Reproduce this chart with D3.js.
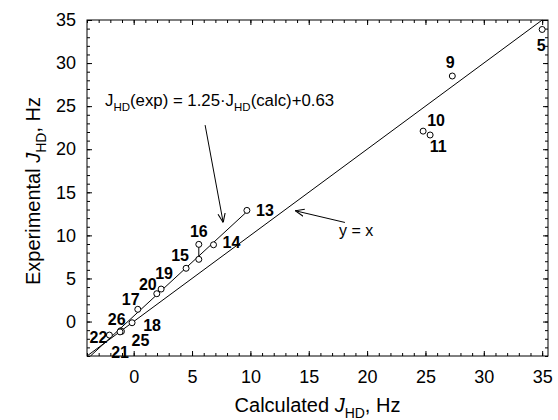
<!DOCTYPE html>
<html>
<head>
<meta charset="utf-8">
<script src="https://cdn.jsdelivr.net/npm/d3@7"></script>
<style>
  body { margin: 0; background: #fff; }
  svg text { font-family: Arial, "Liberation Sans", sans-serif; fill: #000; }
</style>
</head>
<body>
<div id="chart"></div>
<script>
// compound ids, calculated vs experimental J_HD (Hz)
var ids    = ["5", "9", "10", "11", "13", "14", "16", "16b", "15", "19", "20", "17", "18", "26", "25", "21", "22"];
var calc   = [35.0, 27.3, 24.8, 25.4, 9.7, 6.84, 5.58, 5.58, 4.49, 2.35, 1.98, 0.35, -0.14, -1.11, -1.05, -1.17, -2.08];
var exper  = [33.9, 28.5, 22.1, 21.65, 12.9, 8.91, 8.96, 7.22, 6.18, 3.77, 3.23, 1.42, -0.14, -1.07, -1.15, -1.2, -1.57];

var xTicks = [0, 5, 10, 15, 20, 25, 30, 35];
var yTicks = [0, 5, 10, 15, 20, 25, 30, 35];

// fit: J(exp) = 1.25*J(calc) + 0.63
var fitSlope = 1.25, fitIntercept = 0.63;
var fitFrom = -3.7, fitTo = 9.7;

// label placement relative to its point (pixels)
var labelOffset = {
  "5": [-1, 16], "9": [-2, -14], "10": [13, -11], "11": [8, 11], "13": [18, 0],
  "14": [18, -3], "16": [0, -13], "15": [-6, -13], "19": [3, -16], "20": [-9, -9],
  "17": [-7, -10], "18": [20, 2], "26": [-4, -12], "25": [19, 9], "21": [0, 20], "22": [-11, 2]
};

var margin = {top: 20, right: 10, bottom: 64, left: 87},
    width = 548 - margin.left,
    height = 356 - margin.top;

var svg = d3.select("#chart").append("svg")
    .attr("width", 558)
    .attr("height", 420)
  .append("g")
    .attr("transform", "translate(" + margin.left + "," + margin.top + ")");

var x = d3.scaleLinear().domain([-4, 35.5]).range([0, width]);
var y = d3.scaleLinear().domain([-4, 35]).range([height, 0]);

var minorX = d3.range(-4, 36), minorY = d3.range(-4, 36);

function styleAxis(g) {
  g.select(".domain").remove();
  g.selectAll("line").attr("stroke", "#000");
  g.selectAll("text").style("font-size", "18px");
}

// minor ticks, all four sides
svg.append("g").attr("transform", "translate(0," + height + ")")
  .call(d3.axisBottom(x).tickValues(minorX).tickSize(-3).tickFormat("")).call(styleAxis);
svg.append("g")
  .call(d3.axisTop(x).tickValues(minorX).tickSize(-3).tickFormat("")).call(styleAxis);
svg.append("g")
  .call(d3.axisLeft(y).tickValues(minorY).tickSize(-3).tickFormat("")).call(styleAxis);
svg.append("g").attr("transform", "translate(" + width + ",0)")
  .call(d3.axisRight(y).tickValues(minorY).tickSize(-3).tickFormat("")).call(styleAxis);

// major ticks
svg.append("g").attr("class", "x axis").attr("transform", "translate(0," + height + ")")
  .call(d3.axisBottom(x).tickValues(xTicks).tickSize(-5).tickPadding(14)).call(styleAxis);
svg.append("g")
  .call(d3.axisTop(x).tickValues(xTicks).tickSize(-5).tickFormat("")).call(styleAxis);
svg.append("g").attr("class", "y axis")
  .call(d3.axisLeft(y).tickValues(yTicks).tickSize(-5).tickPadding(11)).call(styleAxis);
svg.append("g").attr("transform", "translate(" + width + ",0)")
  .call(d3.axisRight(y).tickValues(yTicks).tickSize(-5).tickFormat("")).call(styleAxis);

// frame
svg.append("rect")
  .attr("width", width).attr("height", height)
  .style("fill", "none").style("stroke", "#000").style("stroke-width", 1);

// y = x
svg.append("line")
  .attr("x1", x(-4)).attr("y1", y(-4))
  .attr("x2", x(35)).attr("y2", y(35))
  .style("stroke", "#000").style("stroke-width", 1);

// fit line
svg.append("line")
  .attr("x1", x(fitFrom)).attr("y1", y(fitSlope * fitFrom + fitIntercept))
  .attr("x2", x(fitTo)).attr("y2", y(fitSlope * fitTo + fitIntercept))
  .style("stroke", "#000").style("stroke-width", 1);

// range bar for 16
var i16 = ids.indexOf("16"), i16b = ids.indexOf("16b");
svg.append("line")
  .attr("x1", x(calc[i16])).attr("y1", y(exper[i16]))
  .attr("x2", x(calc[i16b])).attr("y2", y(exper[i16b]))
  .style("stroke", "#000");

// points
svg.selectAll(".dot")
  .data(ids)
  .enter().append("circle")
  .attr("class", "dot")
  .attr("cx", function(d, i) { return x(calc[i]); })
  .attr("cy", function(d, i) { return y(exper[i]); })
  .attr("r", 3)
  .style("fill", "#fff")
  .style("stroke", "#000")
  .style("stroke-width", 1);

// labels
svg.selectAll(".lbl")
  .data(ids.filter(function(d) { return labelOffset[d]; }))
  .enter().append("text")
  .attr("class", "lbl")
  .attr("x", function(d) { return x(calc[ids.indexOf(d)]) + labelOffset[d][0]; })
  .attr("y", function(d) { return y(exper[ids.indexOf(d)]) + labelOffset[d][1]; })
  .attr("dy", "0.36em")
  .style("text-anchor", "middle")
  .style("font-size", "16px")
  .style("font-weight", "bold")
  .text(function(d) { return d; });

// arrow marker
svg.append("defs").append("marker")
  .attr("id", "arr")
  .attr("viewBox", "0 0 10 10")
  .attr("refX", 10).attr("refY", 5)
  .attr("markerWidth", 9).attr("markerHeight", 9)
  .attr("markerUnits", "userSpaceOnUse")
  .attr("orient", "auto")
  .append("path")
  .attr("d", "M0,1 L10,5 L0,9")
  .style("fill", "none").style("stroke", "#000").style("stroke-width", 1.2);

// annotation arrows
svg.append("line")
  .attr("x1", x(6.12)).attr("y1", y(22.8))
  .attr("x2", x(7.67)).attr("y2", y(11.5))
  .style("stroke", "#000").attr("marker-end", "url(#arr)");
svg.append("line")
  .attr("x1", x(18.1)).attr("y1", y(11.5))
  .attr("x2", x(13.84)).attr("y2", y(12.86))
  .style("stroke", "#000").attr("marker-end", "url(#arr)");

// equation text
var eq = svg.append("text")
  .attr("x", 105 - margin.left).attr("y", 106 - margin.top)
  .style("font-size", "16.8px");
eq.append("tspan").text("J");
eq.append("tspan").attr("dy", 5).style("font-size", "11.5px").text("HD");
eq.append("tspan").attr("dy", -5).text("(exp) = 1.25\u00b7J");
eq.append("tspan").attr("dy", 5).style("font-size", "11.5px").text("HD");
eq.append("tspan").attr("dy", -5).text("(calc)+0.63");

svg.append("text")
  .attr("x", 339 - margin.left).attr("y", 236 - margin.top)
  .style("font-size", "16px")
  .text("y = x");

// axis titles
var xt = svg.append("text")
  .attr("x", width / 2).attr("y", 412 - margin.top)
  .style("text-anchor", "middle")
  .style("font-size", "20px");
xt.append("tspan").text("Calculated ");
xt.append("tspan").style("font-style", "italic").text("J");
xt.append("tspan").attr("dy", 6).style("font-size", "14px").text("HD");
xt.append("tspan").attr("dy", -6).text(", Hz");

var yt = svg.append("text")
  .attr("transform", "rotate(-90)")
  .attr("x", -height / 2 - 3).attr("y", 40 - margin.left)
  .style("text-anchor", "middle")
  .style("font-size", "20px");
yt.append("tspan").text("Experimental ");
yt.append("tspan").style("font-style", "italic").text("J");
yt.append("tspan").attr("dy", 6).style("font-size", "14px").text("HD");
yt.append("tspan").attr("dy", -6).text(", Hz");
</script>
</body>
</html>
